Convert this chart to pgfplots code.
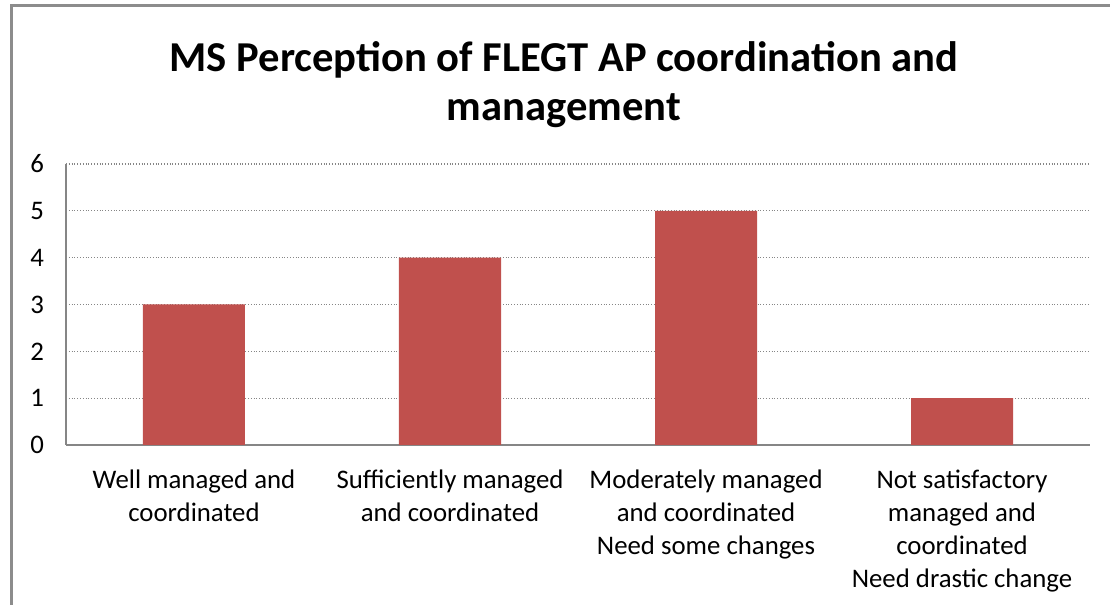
\documentclass[border=0pt]{standalone}
\usepackage{pgfplots}
\pgfplotsset{compat=1.18}
\usepackage{fontspec}
\setmainfont{Carlito}
\definecolor{barred}{HTML}{C0504D}
\definecolor{axgray}{HTML}{868686}
\definecolor{framegray}{HTML}{8C8C8C}
\begin{document}
\begin{tikzpicture}
\useasboundingbox (0pt,0pt) rectangle (555pt,302.5pt);
\draw[framegray, line width=1.5pt] (5.5pt,0pt) -- (5.5pt,299.5pt) -- (555pt,299.5pt);
\node[font=\fontsize{21.3pt}{24.5pt}\selectfont\bfseries, align=center] at (282pt,260pt) {MS Perception of FLEGT AP coordination and\\management};
\begin{axis}[
  at={(33pt,80pt)}, anchor=south west,
  scale only axis, width=512pt, height=140.5pt,
  xmin=-0.5, xmax=3.5, ymin=0, ymax=6,
  ytick={0,1,...,6},
  xtick={0,1,2,3},
  xticklabels={{Well managed and\\coordinated},{Sufficiently managed\\and coordinated},{Moderately managed\\and coordinated\\Need some changes},{Not satisfactory\\managed and\\coordinated\\Need drastic change}},
  xticklabel style={align=center, font=\fontsize{13.4pt}{16.5pt}\selectfont, anchor=north, yshift=-9pt},
  yticklabel style={font=\fontsize{13.4pt}{14pt}\selectfont, xshift=-7.5pt},
  /pgf/number format/assume math mode=true,
  major tick length=0pt,
  axis x line*=bottom, axis y line*=left,
  axis line style={axgray, line width=0.8pt},
  ymajorgrids, grid style={axgray, densely dotted, line width=0.6pt},
  clip=false,
]
\addplot[ybar, bar width=51pt, fill=barred, draw=none] coordinates {(0,3) (1,4) (2,5) (3,1)};
\end{axis}
\end{tikzpicture}
\end{document}
